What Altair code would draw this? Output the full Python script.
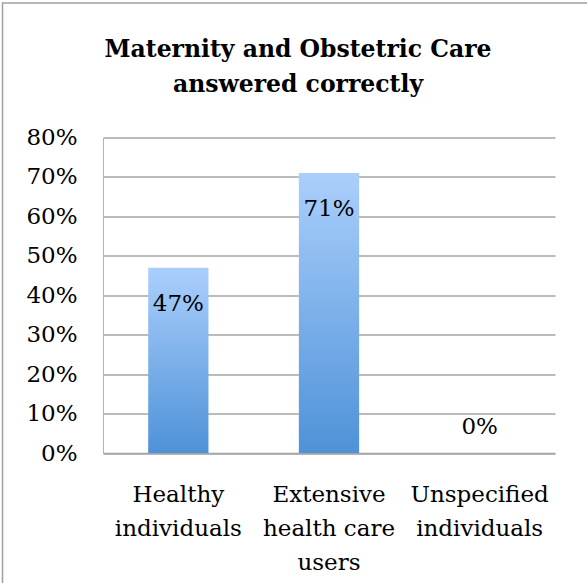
import altair as alt
import pandas as pd

categories = ["Healthy\nindividuals", "Extensive\nhealth care\nusers", "Unspecified\nindividuals"]
values = [0.47, 0.71, 0.0]
labels = ["47%", "71%", "0%"]
y_ticks = [0, 0.1, 0.2, 0.3, 0.4, 0.5, 0.6, 0.7, 0.8]
title_lines = ["Maternity and Obstetric Care", "answered correctly"]

df = pd.DataFrame({"cat": categories, "value": values, "label": labels})

FONT = "DejaVu Serif"

x_enc = alt.X("cat:N", sort=categories, title=None,
              scale=alt.Scale(paddingInner=0.6, paddingOuter=0.3),
              axis=alt.Axis(labelExpr="split(datum.label, '\\n')", labelAngle=0,
                            labelFont=FONT, labelFontSize=23, labelColor="#000000",
                            labelLineHeight=34, labelPadding=30, ticks=False,
                            labelOverlap=False,
                            domainColor="#a5a5a5", domainWidth=1.5, grid=False))
y_enc = alt.Y("value:Q", title=None,
              scale=alt.Scale(domain=[0, 0.8], nice=False),
              axis=alt.Axis(format=".0%", values=y_ticks,
                            labelFont=FONT, labelFontSize=23, labelColor="#000000",
                            labelPadding=26, ticks=False, labelOverlap=False,
                            labelFlush=False, domainColor="#b5b5b5",
                            domainWidth=1, gridColor="#a5a5a5", gridWidth=1.5))

gradient = alt.Gradient(
    gradient="linear",
    stops=[alt.GradientStop(color="#abcffc", offset=0),
           alt.GradientStop(color="#4e92d8", offset=1)],
    x1=0, x2=0, y1=0, y2=1,
)

base = alt.Chart(df)

bars = base.mark_bar(color=gradient).encode(x=x_enc, y=y_enc)

text_in = base.transform_filter("datum.value > 0").mark_text(
    font=FONT, fontSize=23, color="#000000", baseline="alphabetic", dy=43
).encode(x=x_enc, y=y_enc, text="label:N")

text_out = base.transform_filter("datum.value <= 0").mark_text(
    font=FONT, fontSize=23, color="#000000", baseline="alphabetic", dy=-19
).encode(x=x_enc, y=y_enc, text="label:N")

title = alt.Chart(pd.DataFrame({"k": [0]})).mark_text(
    text=title_lines, font=FONT, fontSize=23.5, fontWeight="bold", color="#000000",
    baseline="alphabetic", align="center", lineHeight=35
).encode(x=alt.value(195), y=alt.value(-80.5))

frame = alt.Chart(pd.DataFrame({"k": [0]})).mark_rect(
    fill=None, stroke="#a0a0a0", strokeWidth=1.5
).encode(x=alt.value(-100.5), x2=alt.value(800), y=alt.value(-134.5), y2=alt.value(800))

chart = alt.layer(bars, text_in, text_out, title, frame).properties(
    width=452, height=315.5,
    padding={"left": 103, "top": 137.5, "right": 32, "bottom": 130},
    autosize=alt.AutoSizeParams(type="none"),
    background="white",
).configure_view(stroke=None)

chart.save("out.html", embed_options={"renderer": "svg", "actions": False})
